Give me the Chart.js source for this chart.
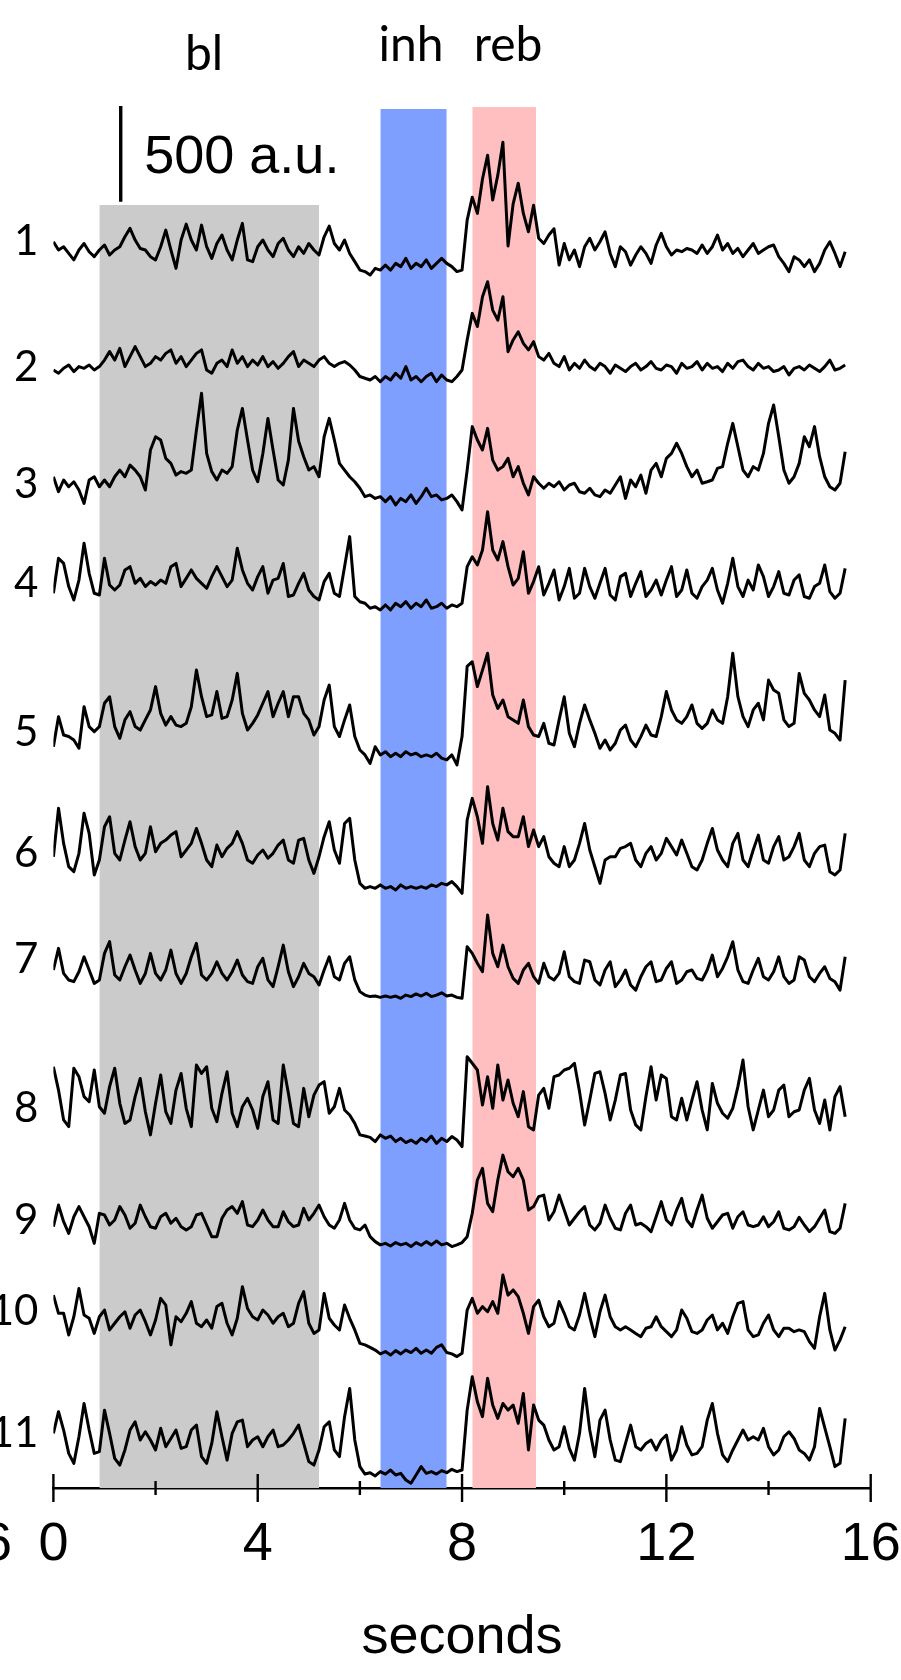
<!DOCTYPE html>
<html>
<head>
<meta charset="utf-8">
<script src="https://cdn.jsdelivr.net/npm/chart.js@4.4.1/dist/chart.umd.min.js"></script>
<style>
  html, body { margin: 0; padding: 0; background: #ffffff; }
  #wrap { width: 901px; height: 1680px; }
</style>
</head>
<body>
<div id="wrap"><canvas id="c" width="901" height="1680"></canvas></div>
<script>
// Fluorescence traces of 11 cells, sampled every 0.1 s (a.u., relative to each cell's resting level)
const SAMPLE_STEP = 0.1;

const trace1 = [52, 9, 26, -9, -43, 9, 43, 0, -26, 9, 35, -17, 9, 26, 78, 122, 61, 17, 9, -26,
  -43, 26, 113, 9, -87, 61, 144, 61, 9, 139, 26, -35, 43, 87, 9, -43, 61, 148, -43, -52,
  26, 61, 9, -26, 43, 70, 9, -26, 26, -9, 43, 9, -17, 78, 134, 43, 9, 61, -9, -52,
  -96, -104, -122, -87, -96, -70, -96, -61, -78, -35, -87, -61, -78, -43, -87, -61, -35, -61, -78, -104,
  -96, 165, 285, 200, 380, 504, 270, 400, 572, 30, 250, 358, 200, 104, 243, 70, 43, 87, 120, -70,
  43, -43, 9, -78, 26, 70, 9, 52, 104, -9, -78, 26, 0, -70, -17, 26, -9, -61, 35, 96,
  26, -17, 9, 0, 17, 9, -9, 35, -9, 26, 87, 9, 43, -9, 17, -26, 9, 43, -9, 9,
  26, 35, -26, -61, -104, -26, -43, -78, -43, -104, -61, 9, 52, -9, -78, 0];

const trace2 = [-9, -26, 0, 17, -17, 9, 0, 17, -9, 9, 43, 87, 43, 104, 9, 61, 113, 61, 9, 26,
  61, 43, 78, 96, 26, 61, 9, 43, 78, 96, -9, -26, 26, 43, 9, 96, 26, 61, 9, 43,
  17, 61, 9, 35, 0, 26, 61, 87, 9, 43, 26, 9, 43, 61, 26, 9, 26, 35, 17, -9,
  -43, -52, -61, -43, -70, -43, -61, -26, -52, 9, -61, -43, -70, -43, -26, -70, -35, -61, -70, -43,
  -9, 148, 287, 218, 374, 452, 304, 252, 374, 87, 148, 191, 130, 96, 139, 61, 43, 78, 26, 9,
  61, -9, 26, 0, 43, 9, -9, 26, 9, -26, 17, 0, -17, 9, 26, -9, 9, 35, 0, -9,
  17, 9, -26, 26, 0, 9, 35, -9, 26, 0, 9, -17, 26, 0, 35, 43, 9, -9, 26, 0,
  9, -17, -9, 9, -35, 0, 9, -9, 17, 0, -17, 9, 43, -9, 0, 17];

const trace3 = [43, -35, 26, -9, 17, -26, -96, 26, 43, -9, 26, -9, 43, 78, 43, 104, 78, 43, -26, 183,
  252, 235, 139, 113, 52, 70, 61, 78, 287, 479, 165, 70, 26, 78, 61, 96, 287, 400, 235, 78,
  17, 165, 348, 183, 26, 0, 130, 400, 230, 148, 78, 96, 43, 252, 348, 235, 113, 78, 43, 17,
  -17, -61, -52, -70, -61, -87, -61, -104, -70, -87, -52, -96, -61, -17, -61, -52, -78, -70, -52, -87,
  -130, 78, 305, 235, 183, 296, 130, 78, 96, 139, 43, 96, 9, -52, 43, 9, -17, 9, -9, 17,
  -26, 0, 9, -35, -43, -17, -52, -61, -26, -43, 0, 43, -70, 26, -9, 52, -43, 78, 113, 43,
  139, 165, 218, 165, 96, 43, 78, 9, 17, 26, 87, 96, 218, 322, 200, 78, 43, 96, 78, 165,
  322, 418, 252, 78, 9, 43, 113, 252, 200, 305, 148, 43, -9, -26, 9, 174];

const trace4 = [-26, 157, 130, 9, -61, 43, 235, 78, -26, -35, 157, 17, -9, 17, 96, 113, 26, 52, 9, 35,
  17, 43, 26, 113, 130, 9, 52, 96, 52, 26, 0, 61, 113, 61, 9, 43, 209, 96, 26, -9,
  61, 113, -26, 43, 52, 130, -43, -35, 26, 78, -9, -43, -61, 35, 78, -26, -43, 113, 270, -43,
  -70, -78, -104, -96, -113, -87, -113, -78, -96, -70, -104, -78, -96, -61, -104, -96, -78, -104, -87, -96,
  -78, 113, 165, 122, 200, 400, 200, 148, 244, 113, 17, 52, 191, -26, 35, 113, -35, 26, 96, -61,
  9, 104, -52, -26, 104, 9, -52, 26, 104, -35, -61, 61, 78, -43, 26, 87, -43, -9, 43, -35,
  43, 113, -43, -9, 96, -26, -52, 9, 43, 104, -9, -78, 26, 157, 9, -43, 43, -9, 122, 61,
  -43, 9, 87, -26, -35, 43, 70, -43, -52, 9, 26, 122, -17, -52, -26, 104];

const trace5 = [-70, 87, -9, -17, -35, -78, 139, 35, 9, 35, 157, 191, 35, -26, 70, 113, 35, 17, 70, 122,
  244, 104, 43, 87, 43, 35, 52, 139, 331, 191, 87, 96, 218, 78, 87, 174, 313, 104, 17, 52,
  96, 157, 218, 87, 157, 218, 87, 191, 191, 104, 70, -9, 35, 174, 252, 35, -17, 70, 148, -17,
  -87, -113, -157, -70, -113, -96, -122, -104, -122, -96, -113, -104, -122, -113, -122, -104, -130, -139, -113, -165,
  -17, 350, 374, 244, 330, 418, 200, 130, 174, 87, 70, 52, 174, 35, -9, -17, 52, -52, -61, 70,
  191, 0, -70, 52, 148, 70, 0, -78, -35, -87, -52, 17, 43, -35, -70, -17, 43, -9, -17, 87,
  218, 122, 70, 52, 87, 148, 52, 26, 52, 122, 70, 52, 191, 418, 191, 87, 35, 122, 157, 70,
  278, 226, 209, 70, 35, 52, 313, 209, 174, 122, 87, 200, 17, 0, -35, 278];

const trace6 = [17, 270, 87, -35, -61, 35, 244, 139, -78, 0, 174, 226, 35, 0, 104, 200, 70, 0, 35, 174,
  43, 87, 104, 130, 148, 17, 52, 87, 165, 87, 0, -35, 78, 17, 61, 87, 148, 87, 0, -17,
  26, 52, 9, 35, 78, 104, 0, -17, 104, 113, 0, -70, 17, 122, 200, 52, -17, 191, 218, 0,
  -122, -148, -139, -148, -130, -148, -139, -157, -130, -148, -139, -148, -139, -148, -130, -139, -122, -130, -113, -139,
  -174, 209, 322, 226, 87, 383, 191, 104, 270, 148, 122, 122, 226, 70, 157, 70, 122, 17, -17, -35,
  70, -35, 0, 87, 191, 52, -35, -122, 0, 17, 17, 61, 70, 87, 0, -35, 35, 70, 0, 35,
  113, 70, 26, 104, 35, -35, -52, 0, 87, 165, 52, 0, -35, 87, 139, 0, -35, 52, 130, 0,
  -17, 70, 122, 0, 17, 70, 139, 0, -35, 35, 70, 78, -61, -78, -52, 139];

const trace7 = [35, 148, 17, -17, -26, 26, 104, 35, -35, -17, 122, 183, 9, -17, 52, 113, 35, -35, 17, 122,
  17, -17, 35, 139, 17, -35, 17, 104, 174, 9, -17, 17, 78, 17, -17, 26, 87, 9, -26, -35,
  52, 96, -17, -52, 52, 165, 26, -52, 0, 70, 17, 0, -43, 35, 104, 0, -17, 70, 104, -17,
  -78, -96, -104, -101, -108, -101, -108, -101, -113, -96, -104, -90, -101, -87, -104, -96, -84, -101, -96, -108,
  -113, 157, 122, 70, 26, 322, 122, 52, 165, 52, -9, -35, 35, 70, 0, -35, 70, 0, -17, 17,
  130, 0, -26, -35, 87, 78, -17, -43, 35, 78, -52, -17, 35, -43, -70, 0, 52, 78, -26, -17,
  43, 78, -35, -17, 26, 35, -9, -17, 35, 113, 0, 43, 104, 183, 35, -26, -35, 35, 96, 0,
  -17, 26, 104, 0, -35, -17, 104, 87, 0, -26, 17, 52, -9, -26, -70, 104];

const trace8 = [226, 104, -52, -87, 218, 174, 70, 43, 209, 17, -17, 122, 218, 35, -70, -52, 70, 165, -9, -130,
  35, 183, -9, -70, 104, 191, 9, -87, 235, 191, 226, 9, -61, 87, 200, -17, -87, 17, 61, 0,
  -96, 70, 148, -52, -70, 235, 87, -70, -87, 113, -35, 78, 130, 148, -17, 17, 113, 0, -26, -70,
  -130, -136, -143, -165, -130, -148, -136, -165, -148, -170, -157, -174, -148, -165, -136, -174, -148, -165, -139, -157,
  -191, 278, 244, 209, 26, 174, 9, 235, 52, 157, 35, -35, 96, -87, -104, 78, 113, 9, 174, 183,
  209, 218, 244, 96, -78, 52, 191, 200, 87, -52, 52, 183, 191, 0, -78, -104, 70, 226, 52, 183,
  165, -35, -52, 61, -52, 52, 148, 0, -104, 139, 35, -17, -43, 9, 122, 261, 17, -104, 0, 104,
  -35, 0, 104, 130, -35, -9, 0, 104, 165, 0, -70, 52, -104, 70, 122, -35];

const trace9 = [-35, 78, -9, -70, 17, 70, 17, -35, -122, 35, 26, -26, 0, 70, 26, -43, -17, 78, 17, -35,
  -43, 17, 35, -17, 9, -35, -52, -35, 26, 35, -26, -87, -87, 9, 52, 70, 35, 96, -26, -35,
  0, 52, 0, -35, -35, 43, -9, -35, -26, 61, 0, 35, 78, 17, -26, -43, 0, 87, 0, -43,
  -52, -26, -87, -113, -130, -122, -136, -118, -130, -122, -139, -118, -132, -113, -130, -110, -130, -122, -139, -130,
  -118, -87, 35, 209, 270, 87, 43, 209, 339, 252, 226, 270, 209, 52, 70, 122, 130, 0, 43, 130,
  52, -26, 9, 43, 70, -26, -52, -17, 78, 9, -43, -52, 35, 78, -26, -17, -35, -61, 17, 96,
  0, -26, 52, 113, 0, -35, 52, 130, 9, -43, -9, 26, 35, -43, 17, 43, -26, -35, -26, 17,
  -35, -9, 43, -43, -52, -35, 14, -26, -61, -35, 9, 52, -61, -70, -43, 87];

const trace10 = [130, 35, 35, -78, 17, 165, 26, 9, -70, 17, 52, -52, -17, 17, 43, -43, 26, 52, -9, -78,
  0, 113, 78, -130, 17, -9, 35, 96, -17, -35, 0, -43, 70, 87, -17, -78, 9, 174, 60, 17,
  0, 52, 26, -17, 17, 35, -35, -17, 87, 148, -17, -70, -52, 139, 9, -26, -52, 78, 9, -52,
  -122, -130, -143, -157, -177, -165, -183, -160, -177, -157, -170, -148, -174, -157, -174, -143, -130, -170, -177, -191,
  -174, 52, 113, 35, 70, 43, 96, 35, 235, 130, 157, 122, 35, -70, 70, 104, 17, -35, -17, 96,
  35, -35, -52, 26, 139, 17, -87, 43, 130, 17, -35, -52, -35, -52, -70, -87, -43, -35, 17, -35,
  -61, -87, -52, 52, 9, -61, -70, -52, 0, 26, -52, -17, -70, 17, 87, 96, -52, -87, -78, -17,
  26, -52, -87, -43, -43, -61, -52, -61, -113, -148, 17, 139, -52, -157, -104, -35];

const trace11 = [70, 183, 87, -35, -87, 52, 226, 87, -35, -26, 191, 70, -61, -96, -17, 87, 130, 35, 78, 35,
  -17, 96, 0, 43, 87, -9, 0, 87, 113, -52, -87, 17, 183, 52, -70, 70, 130, 139, 0, 35,
  52, 0, 52, 87, 0, 9, 35, 70, 113, 17, -78, -96, -17, 104, 130, -17, -52, 157, 304, 35,
  -104, -143, -136, -153, -130, -143, -122, -148, -139, -174, -191, -148, -104, -139, -130, -143, -125, -136, -118, -130,
  -122, 191, 365, 235, 157, 357, 218, 148, 226, 191, 218, 122, 278, -17, 218, 139, 113, 35, -17, 0,
  104, -9, -70, 70, 304, 87, -52, 139, 191, 35, -70, -78, 17, 113, 0, -17, 17, 35, -17, 35,
  61, -70, -17, 104, 9, -43, -35, 0, 139, 226, 70, -43, -78, -17, 35, 87, 35, 52, 35, 96,
  0, -43, -17, 52, 78, 43, -17, -35, -70, 0, 200, 100, 0, -104, -87, 148];

const traces = [trace1, trace2, trace3, trace4, trace5, trace6, trace7, trace8, trace9, trace10, trace11];
const traceNames = ['1', '2', '3', '4', '5', '6', '7', '8', '9', '10', '11'];

// Stimulation epochs (seconds)
const bandLabels = ['bl', 'inh', 'reb'];
const bandStart = [0.9, 6.4, 8.2];
const bandEnd = [5.2, 7.7, 9.45];

// Time axis
const xTickValues = [0, 4, 8, 12, 16];
const xTickLabels = ['0', '4', '8', '12', '16'];
const scaleBarValue = 500;
const scaleBarLabel = '500 a.u.';
const axisTitle = 'seconds';

// ---- layout (pixels) ----
const AXIS_Y = 1488;          // x axis line
const TOP_Y = 100;            // top of plotting area
const PLOT_LEFT = 53.4;       // t = 0
const PLOT_RIGHT = 870.7;     // t = 16
const PX_PER_500 = 95.7;      // height of the 500 a.u. bar
const AU_PER_PX = 500 / PX_PER_500;
const Y_MAX = (AXIS_Y - TOP_Y) * AU_PER_PX;
const auAt = px => (AXIS_Y - px) * AU_PER_PX;

const rowZeroPx = [251.7, 368.3, 485, 588.3, 733.3, 860, 976.7, 1110, 1220, 1320, 1446.7];
const rowLabelPx = [241, 367, 484, 583, 732, 853, 959, 1108, 1220, 1311, 1433];
const bandTopPx = [205, 109, 107];
const bandColors = ['#cbcbcb', '#7f9ffe', '#ffbfc0'];
const bandLabelAt = [2.95, 7.0, 8.9];
const bandLabelBaseline = [70, 61, 61];
const SCALE_BAR_T = 1.318;
const SCALE_BAR_BOTTOM_PX = 201.7;

const datasets = [];
bandStart.forEach((s, i) => {
  const top = auAt(bandTopPx[i]);
  datasets.push({
    data: [{ x: s, y: top }, { x: bandEnd[i], y: top }],
    fill: 'origin', backgroundColor: bandColors[i],
    borderWidth: 0, pointRadius: 0, order: 3
  });
});
traces.forEach((tr, k) => {
  const off = auAt(rowZeroPx[k]);
  datasets.push({
    data: tr.map((v, i) => ({ x: +(i * SAMPLE_STEP).toFixed(2), y: v + off })),
    borderColor: '#000000', borderWidth: 3, pointRadius: 0,
    fill: false, tension: 0, borderJoinStyle: 'round', order: 1
  });
});
const barBottom = auAt(SCALE_BAR_BOTTOM_PX);
datasets.push({
  data: [{ x: SCALE_BAR_T, y: barBottom }, { x: SCALE_BAR_T, y: barBottom + scaleBarValue }],
  borderColor: '#000000', borderWidth: 3.4, pointRadius: 0, fill: false,
  borderCapStyle: 'butt', order: 1
});

const decor = {
  id: 'decor',
  afterDraw(chart) {
    const { ctx, chartArea, scales: { x, y } } = chart;
    ctx.save();
    ctx.strokeStyle = '#000000';
    ctx.lineWidth = 2.4;
    x.ticks.forEach(t => {
      const px = x.getPixelForValue(t.value);
      const h = xTickValues.includes(t.value) ? 14 : 7;
      ctx.beginPath();
      ctx.moveTo(px, chartArea.bottom - h);
      ctx.lineTo(px, chartArea.bottom + h);
      ctx.stroke();
    });
    ctx.fillStyle = '#000000';
    ctx.textBaseline = 'alphabetic';
    ctx.textAlign = 'center';
    ctx.font = '48px Lato';
    bandLabels.forEach((lab, i) => {
      ctx.fillText(lab, x.getPixelForValue(bandLabelAt[i]), bandLabelBaseline[i]);
    });
    ctx.textAlign = 'left';
    ctx.font = '54px "Liberation Sans"';
    ctx.fillText(scaleBarLabel, x.getPixelForValue(SCALE_BAR_T) + 23.5, y.getPixelForValue(barBottom) - 28.5);
    // edge of the neighbouring panel's time axis
    ctx.textAlign = 'right';
    ctx.textBaseline = 'middle';
    ctx.fillText('16', 12, chartArea.bottom + 25 + 32.4);
    ctx.restore();
  }
};

new Chart(document.getElementById('c'), {
  type: 'line',
  data: { datasets },
  plugins: [decor],
  options: {
    responsive: false,
    devicePixelRatio: 1,
    animation: false,
    events: [],
    layout: { padding: { top: TOP_Y, right: 901 - PLOT_RIGHT, bottom: 0, left: 0 } },
    plugins: { legend: { display: false }, tooltip: { enabled: false } },
    scales: {
      x: {
        type: 'linear', min: 0, max: 16,
        afterFit: s => { s.height = 1680 - AXIS_Y; s.paddingLeft = 0; s.paddingRight = 0; },
        grid: { drawOnChartArea: false, drawTicks: false },
        border: { display: true, color: '#000000', width: 2.6 },
        ticks: {
          stepSize: 2, autoSkip: false, maxRotation: 0, padding: 25,
          color: '#000000',
          font: { family: 'Liberation Sans', size: 54, lineHeight: 1.2 },
          callback: v => { const k = xTickValues.indexOf(v); return k >= 0 ? xTickLabels[k] : ''; }
        },
        title: {
          display: true, text: axisTitle, color: '#000000',
          font: { family: 'Liberation Sans', size: 54, lineHeight: 1.0 },
          padding: { top: 0, bottom: 15 }
        }
      },
      y: {
        type: 'linear', min: 0, max: Y_MAX,
        afterFit: s => { s.width = PLOT_LEFT; s.paddingTop = 0; s.paddingBottom = 0; },
        afterBuildTicks: s => { s.ticks = rowLabelPx.map(p => ({ value: auAt(p) })); },
        grid: { display: false, drawTicks: false },
        border: { display: false },
        ticks: {
          autoSkip: false, padding: 15, color: '#000000',
          font: { family: 'Lato', size: 42 },
          callback: (v, i) => traceNames[i]
        }
      }
    }
  }
});
</script>
</body>
</html>
